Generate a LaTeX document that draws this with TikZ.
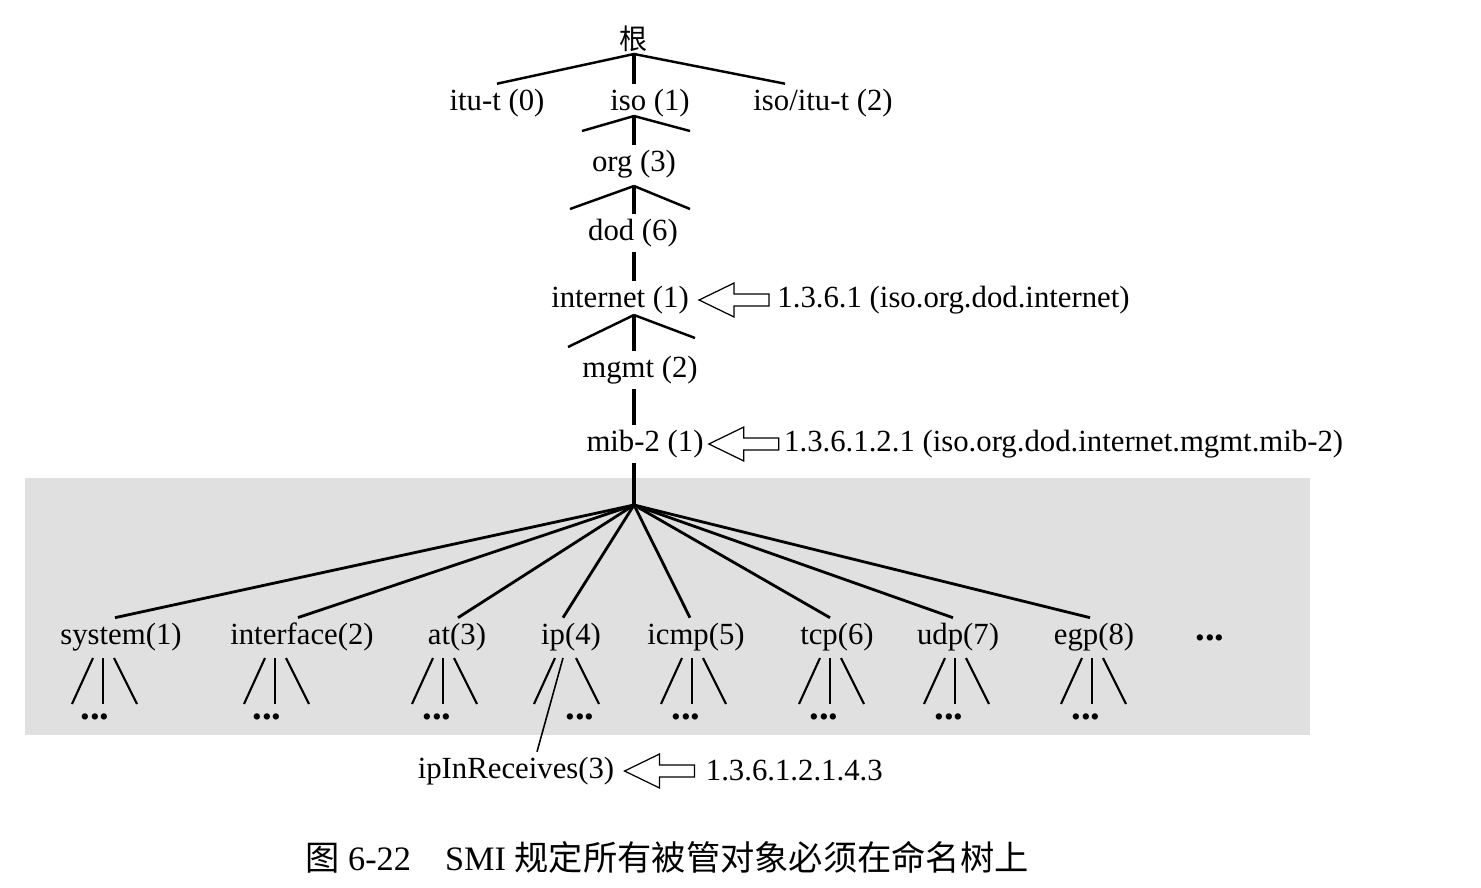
\documentclass[tikz,border=0pt]{standalone}
\usepackage{fontspec}
\setmainfont{Liberation Serif}
\newfontfamily\cjk{Noto Sans CJK SC}
\usetikzlibrary{positioning, calc, backgrounds}

\tikzset{
  lbl/.style={inner sep=1mm, font=\fontsize{17.5}{20}\selectfont},
  oid/.style={lbl},
  dotsnode/.style={inner sep=0pt, font=\fontsize{22}{22}\selectfont\bfseries},
  spine/.style={line width=2.4pt},
  stub/.style={line width=1.4pt},
  fan/.style={line width=1.6pt},
  leaf/.style={line width=1.2pt},
  hollowarrow/.pic={
    \draw[line width=0.7pt, fill=white] (0,0) -- (35,-17) -- (35,-6) -- (70,-6)
      -- (70,6) -- (35,6) -- (35,17) -- cycle;
  }
}

\begin{document}
\begin{tikzpicture}[x=0.2mm, y=-0.2mm]
\useasboundingbox (0,0) rectangle (1481,887);
\fill[black!12] (25,478) rectangle (1310,735);

% upper part of the tree
\node[lbl, font=\fontsize{16}{18}\selectfont] (root) at (634,39) {\cjk 根};
\node[lbl] (itu) at (497,103) {itu-t (0)};
\node[lbl] (iso) at (650,103) {iso (1)};
\node[lbl] (isoitu) at (823,103) {iso/itu-t (2)};
\node[lbl] (org) at (634,164) {org (3)};
\node[lbl] (dod) at (633,233) {dod (6)};
\node[lbl] (internet) at (620,300) {internet (1)};
\node[lbl] (mgmt) at (640,370) {mgmt (2)};
\node[lbl] (mib) at (645,444) {mib-2 (1)};

\coordinate (f0) at (634,54);
\coordinate (f1) at (634,116);
\coordinate (f2) at (634,186);
\coordinate (f3) at (634,315);
\coordinate (f4) at (634,505);

\draw[stub] (itu.north) -- (f0) -- ([xshift=-7.6mm]isoitu.north);
\draw[spine] (f0) -- (f0 |- iso.north);
\draw[stub] (f1) -- ++(-52,15) (f1) -- ++(56,15);
\draw[spine] (f1) -- (f1 |- org.north);
\draw[stub] (f2) -- ++(-64,23) (f2) -- ++(56,23);
\draw[spine] (f2) -- (f2 |- dod.north);
\draw[spine] (dod.south -| f0) -- (internet.north -| f0);
\draw[stub] (f3) -- ++(-66,32) (f3) -- ++(61,23);
\draw[spine] (f3) -- (f3 |- mgmt.north);
\draw[spine] (mgmt.south -| f0) -- (mib.north -| f0);
\draw[spine] (mib.south -| f0) -- (f4);

% object identifiers
\pic at ([xshift=1mm]internet.east) {hollowarrow};
\node[oid, right=15.6mm of internet] (oidinet) {1.3.6.1 (iso.org.dod.internet)};
\pic at (mib.east) {hollowarrow};
\node[oid, right=14mm of mib] (oidmib) {1.3.6.1.2.1 (iso.org.dod.internet.mgmt.mib-2)};

% mib-2 groups
\foreach \nm/\txt/\tx/\lx/\sx/\dx in {system/system(1)/121/115/103/95,
    interface/interface(2)/302/298/275/267, at/at(3)/457/458/443/437,
    ip/ip(4)/571/563/565/580, icmp/icmp(5)/696/690/692/686,
    tcp/tcp(6)/837/830/830/824, udp/udp(7)/958/953/955/949,
    egp/egp(8)/1094/1090/1092/1086} {
  \node[lbl] (\nm) at (\tx,637) {\txt};
  \draw[fan] (f4) -- ([xshift={(\lx-\tx)*0.2mm}]\nm.north);
  \coordinate (\nm-sub) at (\sx,658);
  \draw[leaf] ([xshift=-2mm]\nm-sub) -- ++(-21,46);
  \draw[leaf] ([xshift=2.2mm]\nm-sub) -- ++(23,46);
  \node[dotsnode] (\nm-dots) at (\dx,717) {...};
}
\foreach \nm in {system,interface,at,icmp,tcp,udp,egp}
  \draw[leaf] (\nm-sub) -- ++(0,46);
\node[dotsnode] (more) at (1210,638) {...};

\node[lbl] (ipin) at (516,771) {ipInReceives(3)};
\draw[line width=0.9pt] ([xshift=-0.4mm]ip-sub) -- ([xshift=4.2mm]ipin.north);
\pic at ([xshift=1mm]ipin.east) {hollowarrow};
\node[oid, right=16.2mm of ipin] (oidip) {1.3.6.1.2.1.4.3};

\node[font=\fontsize{19.5}{22}\selectfont] (caption) at (667,857)
  {{\cjk 图} 6-22\quad SMI {\cjk 规定所有被管对象必须在命名树上}};
\end{tikzpicture}
\end{document}
